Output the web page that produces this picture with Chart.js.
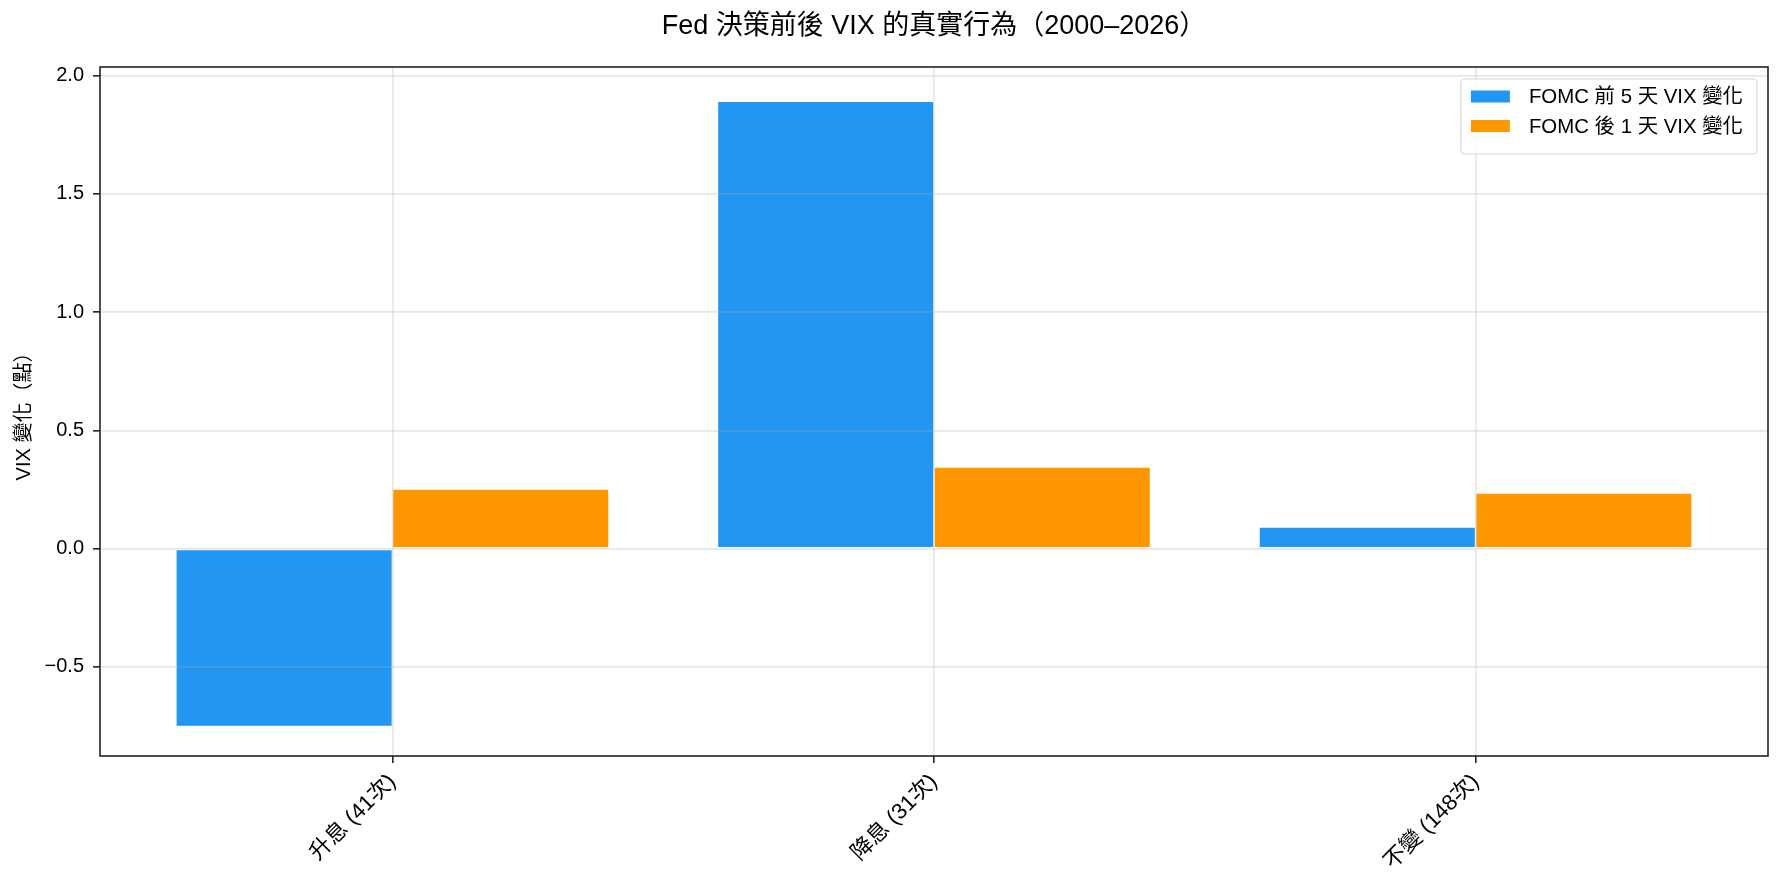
<!DOCTYPE html>
<html><head><meta charset="utf-8">
<script src="https://cdn.jsdelivr.net/npm/chart.js@4.4.1/dist/chart.umd.min.js"></script>
<style>html,body{margin:0;padding:0;background:#fff;}#wrap{width:1783px;height:884px;}</style>
</head><body><div id="wrap"><canvas id="c" width="1783" height="884"></canvas></div>
<script>
const categories = ['升息 (41次)', '降息 (31次)', '不變 (148次)'];
const seriesNames = ['FOMC 前 5 天 VIX 變化', 'FOMC 後 1 天 VIX 變化'];
const preFomc = [-0.752, 1.892, 0.092];
const postFomc = [0.252, 0.345, 0.236];
const seriesColors = ['#2196F3', '#FF9800'];
const yTicks = [-0.5, 0, 0.5, 1.0, 1.5, 2.0];
const titleText = 'Fed 決策前後 VIX 的真實行為（2000–2026）';
const yTitle = 'VIX 變化（點）';

const FONT = '"Liberation Sans", "Noto Sans CJK TC", "DejaVu Sans", sans-serif';
const gridColor = 'rgba(176,176,176,0.3)';
const spineColor = '#222222';

const framePlugin = {
  id: 'frameLegend',
  afterDraw(chart) {
    const {ctx, chartArea: a} = chart;
    ctx.save();
    ctx.strokeStyle = spineColor;
    ctx.lineWidth = 1.6;
    ctx.strokeRect(a.left, a.top, a.right - a.left, a.bottom - a.top);
    // legend
    ctx.font = '20.4px ' + FONT;
    const ds = chart.data.datasets;
    const maxW = Math.max(...ds.map(d => ctx.measureText(d.label).width));
    const w = 68 + maxW + 14, h = 75;
    const right = a.right - 11, top = a.top + 12, left = right - w;
    const r = 4;
    ctx.beginPath();
    ctx.moveTo(left + r, top);
    ctx.arcTo(right, top, right, top + h, r);
    ctx.arcTo(right, top + h, left, top + h, r);
    ctx.arcTo(left, top + h, left, top, r);
    ctx.arcTo(left, top, right, top, r);
    ctx.closePath();
    ctx.fillStyle = 'rgba(255,255,255,0.8)';
    ctx.fill();
    ctx.strokeStyle = 'rgba(204,204,204,0.8)';
    ctx.lineWidth = 1.2;
    ctx.stroke();
    ds.forEach((d, i) => {
      const cy = top + 17.5 + i * 29.5;
      ctx.fillStyle = d.backgroundColor;
      ctx.fillRect(left + 10, cy - 6, 39, 12);
      ctx.fillStyle = '#000';
      ctx.textBaseline = 'middle';
      ctx.textAlign = 'left';
      ctx.fillText(d.label, left + 68, cy + 1);
    });
    ctx.restore();
  }
};

const mkData = arr => arr.map((v, i) => ({x: i, y: v}));
const datasets = [preFomc, postFomc].map((arr, k) => ({
  label: seriesNames[k],
  data: mkData(arr),
  backgroundColor: seriesColors[k],
  borderColor: 'rgba(255,255,255,0.9)',
  borderWidth: 0.8,
  borderSkipped: false,
  categoryPercentage: 0.8,
  barPercentage: 1.0
}));

new Chart(document.getElementById('c'), {
  type: 'bar',
  data: {datasets},
  plugins: [framePlugin],
  options: {
    responsive: false,
    animation: false,
    devicePixelRatio: 1,
    layout: {padding: {left: 0, right: 15, top: 0, bottom: 0}},
    plugins: {
      legend: {display: false},
      tooltip: {enabled: false},
      title: {
        display: true, text: titleText, fullSize: false, color: '#000',
        font: {family: FONT, size: 27, weight: 'normal', lineHeight: 1.2},
        padding: {top: 10, bottom: 24.6}
      }
    },
    scales: {
      x: {
        type: 'linear', min: -0.54, max: 2.54, offset: false,
        afterBuildTicks: s => { s.ticks = categories.map((_, i) => ({value: i})); },
        afterFit: s => { s.height = 128; },
        ticks: {
          callback: v => categories[v], minRotation: 45, maxRotation: 45,
          autoSkip: false, color: '#000', padding: 6,
          font: {family: FONT, size: 22}
        },
        grid: {offset: false, color: gridColor, lineWidth: 1.67, z: 1, drawTicks: true,
               tickColor: spineColor, tickLength: 7, tickWidth: 1.6},
        border: {display: false}
      },
      y: {
        min: -0.877, max: 2.037,
        afterBuildTicks: s => { s.ticks = yTicks.map(v => ({value: v})); },
        afterFit: s => { s.width = 100; },
        ticks: {
          callback: v => (v < 0 ? '\u2212' : '') + Math.abs(v).toFixed(1),
          color: '#000', padding: 9, font: {family: FONT, size: 20}
        },
        grid: {color: gridColor, lineWidth: 1.67, z: 1, drawTicks: true,
               tickColor: spineColor, tickLength: 7, tickWidth: 1.6},
        border: {display: false},
        title: {display: true, text: yTitle, color: '#000',
                font: {family: FONT, size: 20}, padding: {top: 12, bottom: 0}}
      }
    }
  }
});
</script></body></html>
